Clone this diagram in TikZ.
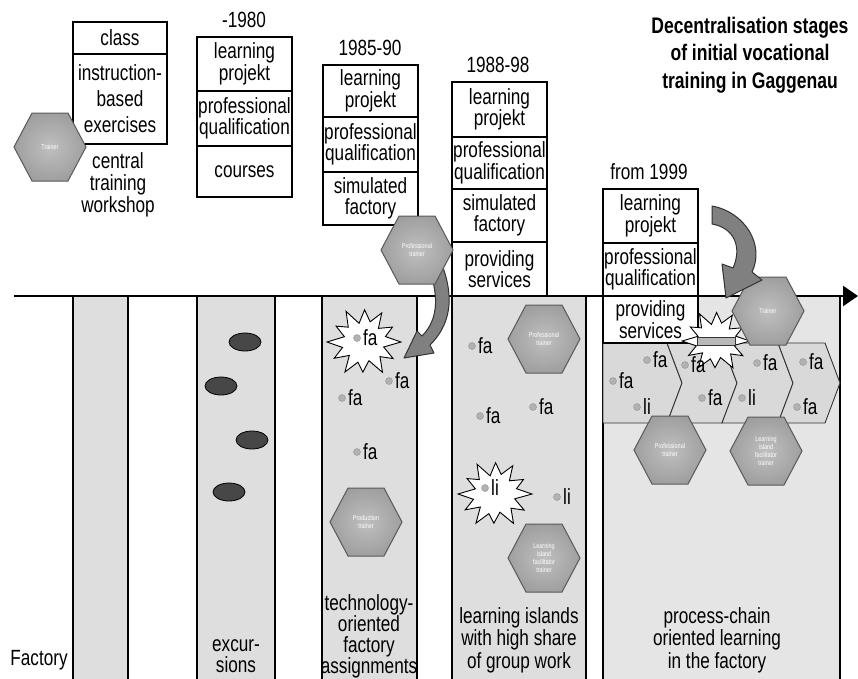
\documentclass[tikz,border=0pt]{standalone}
\usepackage{fontspec}
\setmainfont{Liberation Sans}[FakeStretch=0.78]
\usetikzlibrary{arrows.meta,shapes.geometric}

% hexagonal role marker: name, x, y, caption
\newcommand\hexnode[4]{%
  \path[hexa] ({#2-36},{#3}) -- ({#2-18},{#3-34}) -- ({#2+18},{#3-34})
    -- ({#2+36},{#3}) -- ({#2+18},{#3+34}) -- ({#2-18},{#3+34}) -- cycle;
  \node[hextext] (#1) at (#2,#3) {#4};}

% dotted work-place label: name, x, y, text
\newcommand\falabel[4]{%
  \node[dot] (#1) at (#2,#3) {};
  \node[txt, anchor=west] (#1t) at ({#2+6},{#3}) {#4};}

% irregular starburst: x, y, x radius, y radius
\newcommand\burstat[4]{%
  \begin{scope}[shift={(#1,#2)}]
    \draw[burst] ({#3},0) \foreach \ang/\rad in {15/0.55,31/0.92,44/0.6,60/1,76/0.55,92/0.86,106/0.6,
      121/1,136/0.55,150/0.93,165/0.6,180/1,196/0.55,211/0.88,225/0.6,241/1,256/0.55,
      271/0.92,286/0.6,300/0.96,315/0.55,331/0.88,345/0.6}
      { -- ({\rad*#3*cos(\ang)},{\rad*#4*sin(\ang)}) } -- cycle;
  \end{scope}}

\begin{document}
\begin{tikzpicture}[x=1pt,y=-1pt,
  txt/.style={font=\fontsize{22}{21}\selectfont, align=center, inner sep=0pt},
  cell/.style={txt, font=\fontsize{22}{20.5}\selectfont, draw, line width=1.6pt, fill=white, minimum width=95pt},
  lane/.style={fill=gray!26, draw=black, line width=1.4pt},
  hexa/.style={draw=black!65, line width=1pt, inner color=gray!50, outer color=gray!75},
  hextext/.style={font=\fontsize{7}{8}\selectfont, text=white, align=center, inner sep=0pt},
  burst/.style={fill=white, draw=black, line width=0.9pt, line join=miter},
  dot/.style={circle, fill=gray!60, draw=gray!85, line width=0.4pt, inner sep=0pt, minimum size=7pt},
  bigarrow/.style={fill=black!50, draw=black!80, line width=1pt, line join=round},
  pebble/.style={ellipse, fill=black!72, draw=black, line width=0.8pt, minimum width=32pt, minimum height=18pt, inner sep=0pt},
  chain/.style={fill=gray!30, draw=black!80, line width=0.9pt},
]
\useasboundingbox[fill=white] (0,0) rectangle (858,678);

% lanes below the time axis
\path[lane] (73,296) rectangle (128,690);
\path[lane] (197,296) rectangle (275,690);
\path[lane] (322,296) rectangle (417,690);
\path[lane] (452,296) rectangle (586,690);
\path[lane, fill=gray!20] (603,296) rectangle (840,690);

% time axis
\coordinate (ax0) at (14,296);
\coordinate (ax1) at (858,296);
\draw[line width=2.6pt, -{Triangle[length=15pt,width=20pt]}] (ax0) -- (ax1);

% stacked stage boxes
\node[cell, minimum width=94pt, minimum height=32pt] (c1a) at (120,38) {class};
\node[cell, minimum width=94pt, minimum height=90pt, font=\fontsize{22}{26}\selectfont] (c1b) at (120,99) {instruction-\\based\\exercises};

\node[txt] (y80) at (244,20) {-1980};
\node[cell, minimum height=54pt] (c2a) at (244.5,64) {learning\\projekt};
\node[cell, minimum height=55pt] (c2b) at (244.5,118.5) {professional\\qualification};
\node[cell, minimum height=51pt] (c2c) at (244.5,171.5) {courses};

\node[txt] (y85) at (370,48) {1985-90};
\node[cell, minimum height=52pt] (c3a) at (370.5,91) {learning\\projekt};
\node[cell, minimum height=55pt] (c3b) at (370.5,144.5) {professional\\qualification};
\node[cell, minimum height=53pt] (c3c) at (370.5,198.5) {simulated\\factory};

\node[txt] (y88) at (498,65) {1988-98};
\node[cell, minimum height=55pt] (c4a) at (499.5,109.5) {learning\\projekt};
\node[cell, minimum height=52pt] (c4b) at (499.5,163) {professional\\qualification};
\node[cell, minimum height=53pt] (c4c) at (499.5,215.5) {simulated\\factory};
\node[cell, minimum height=54pt] (c4d) at (499.5,269) {providing\\services};

\node[txt] (y99) at (649,172) {from 1999};
\node[cell, minimum height=54pt] (c5a) at (650.5,216) {learning\\projekt};
\node[cell, minimum height=53pt] (c5b) at (650.5,269.5) {professional\\qualification};

% process chain of the factory stage
\path[chain] (603,343) -- (667,343) -- (682,383) -- (667,423) -- (603,423) -- cycle;
\path[chain] (667,343) -- (722,343) -- (737,383) -- (722,423) -- (667,423) -- (682,383) -- cycle;
\path[chain] (722,343) -- (778,343) -- (793,383) -- (778,423) -- (722,423) -- (737,383) -- cycle;
\path[chain] (778,343) -- (825,343) -- (840,383) -- (825,423) -- (778,423) -- (793,383) -- cycle;
\node[cell, minimum height=47pt] (c5c) at (650.5,319.5) {providing\\services};

% starbursts
\burstat{364}{342}{37}{35}
\burstat{495}{494}{37}{34}
\burstat{716}{341}{34}{31}
\node[draw=black!80, fill=gray!55, line width=0.8pt, minimum width=38pt, minimum height=8pt, inner sep=0pt] (bar) at (716,341) {};

% curved arrow of the 1985-90 stage
\path[bigarrow] (441,262) .. controls (452,290) and (455,320) .. (430,345)
  -- (434,353) -- (404,358) -- (417,331)
  -- (422,336) .. controls (440,318) and (438,292) .. (428,266) -- cycle;

% role hexagons
\hexnode{hA}{50}{147}{Trainer}
\hexnode{hB}{417}{250}{Professional\\trainer}
\hexnode{hC}{366}{522}{Production\\trainer}
\hexnode{hD}{544}{339}{Professional\\trainer}
\hexnode{hE}{544}{558}{Learning\\island\\facilitator\\trainer}
\hexnode{hF}{768}{311}{Trainer}
\hexnode{hG}{670}{450}{Professional\\trainer}
\hexnode{hH}{766}{451}{Learning\\island\\facilitator\\trainer}

% curved arrow of the 1999 stage
\path[bigarrow] (712,206) .. controls (745,212) and (765,245) .. (752,272)
  -- (762,280) -- (726,298) -- (722,264)
  -- (733,268) .. controls (742,248) and (735,228) .. (712,224) -- cycle;

% work places and learning islands
\falabel{f1}{357}{338}{fa}
\falabel{f2}{389}{381}{fa}
\falabel{f3}{342}{398}{fa}
\falabel{f4}{357}{452}{fa}
\falabel{f5}{472}{346}{fa}
\falabel{f6}{480}{416}{fa}
\falabel{f7}{533}{407}{fa}
\falabel{l1}{485}{488}{li}
\falabel{l2}{557}{497}{li}
\falabel{f8}{647}{360}{fa}
\falabel{f9}{613}{381}{fa}
\falabel{l3}{637}{407}{li}
\falabel{f10}{685}{365}{fa}
\falabel{f11}{702}{398}{fa}
\falabel{l4}{742}{398}{li}
\falabel{f12}{757}{363}{fa}
\falabel{f13}{803}{362}{fa}
\falabel{f14}{797}{407}{fa}

% excursions
\node[pebble] (p1) at (245,342) {};
\node[pebble] (p2) at (221,386) {};
\node[pebble] (p3) at (252,440) {};
\node[pebble] (p4) at (229,492) {};

% captions
\node[txt, font=\fontsize{22}{22}\selectfont] (cw) at (118,185) {central\\training\\workshop};
\node[txt] (fac) at (39,660) {Factory};
\node[txt, font=\fontsize{22}{20.5}\selectfont] (exc) at (236,656) {excur-\\sions};
\node[txt] (tech) at (369,636) {technology-\\oriented\\factory\\assignments};
\node[txt, font=\fontsize{22}{22.5}\selectfont] (isl) at (519,640) {learning islands\\with high share\\of group work};
\node[txt, font=\fontsize{22}{22.5}\selectfont] (proc) at (717,640) {process-chain\\oriented learning\\in the factory};
\node[txt, font=\bfseries\fontsize{22.5}{27.5}\selectfont] (title) at (750,55) {Decentralisation stages\\of initial vocational\\training in Gaggenau};
\end{tikzpicture}
\end{document}
